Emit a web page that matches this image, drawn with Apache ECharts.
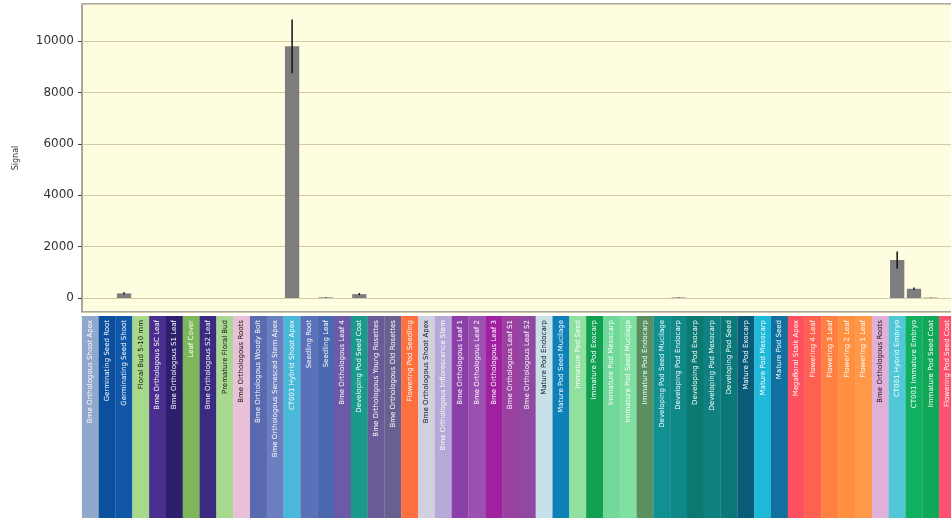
<!DOCTYPE html>
<html>
<head>
<meta charset="utf-8">
<script src="https://cdn.jsdelivr.net/npm/echarts@6/dist/echarts.min.js"></script>
<style>
  html, body { margin: 0; padding: 0; background: #fff; }
  #main { width: 951px; height: 518px; }
</style>
</head>
<body>
<div id="main"></div>
<script>
// tissue names, one per column
var tissues = [
    'Bme Orthologous Shoot Apex', 'Germinating Seed Root', 'Germinating Seed Shoot', 'Floral Bud 5-10 mm',
    'Bme Orthologous SC Leaf', 'Bme Orthologous S1 Leaf', 'Leaf Cover', 'Bme Orthologous S2 Leaf',
    'Premature Floral Bud', 'Bme Orthologous Roots', 'Bme Orthologous Woody Bolt', 'Bme Orthologous Senesced Stem Apex',
    'CT001 Hybrid Shoot Apex', 'Seedling Root', 'Seedling Leaf', 'Bme Orthologous Leaf 4',
    'Developing Pod Seed Coat', 'Bme Orthologous Young Rosettes', 'Bme Orthologous Old Rosettes', 'Flowering Pod Seedling',
    'Bme Orthologous Shoot Apex', 'Bme Orthologous Inflorescence Stem', 'Bme Orthologous Leaf 1', 'Bme Orthologous Leaf 2',
    'Bme Orthologous Leaf 3', 'Bme Orthologous Leaf S1', 'Bme Orthologous Leaf S2', 'Mature Pod Endocarp',
    'Mature Pod Seed Mucilage', 'Immature Pod Seed', 'Immature Pod Exocarp', 'Immature Pod Mesocarp',
    'Immature Pod Seed Mucilage', 'Immature Pod Endocarp', 'Developing Pod Seed Mucilage', 'Developing Pod Endocarp',
    'Developing Pod Exocarp', 'Developing Pod Mesocarp', 'Developing Pod Seed', 'Mature Pod Exocarp',
    'Mature Pod Mesocarp', 'Mature Pod Seed', 'Megafloral Stalk Apex', 'Flowering 4 Leaf',
    'Flowering 3 Leaf', 'Flowering 2 Leaf', 'Flowering 1 Leaf', 'Bme Orthologous Roots',
    'CT001 Hybrid Embryo', 'CT001 Immature Embryo', 'Immature Pod Seed Coat', 'Flowering Pod Seed Coat'
];
// colour of the label box under each column
var tissueColors = [
    '#8fa8cc', '#0b4f9e', '#1157a8', '#a8d88a', '#4a2f8f', '#2e1f6e', '#7cb85a', '#3a2a80',
    '#a8d890', '#e8c0d8', '#5a6ab0', '#6a7ec0', '#4ab8d8', '#5a70b8', '#4a68b0', '#6a5aa8',
    '#1a9a8a', '#6a5a98', '#6a6090', '#ff7040', '#d0d0e0', '#b8a8d8', '#8a40a8', '#9a50b0',
    '#a020a0', '#9a40a0', '#9048a0', '#c8e0e8', '#1080b8', '#90e0a0', '#10a050', '#70d898',
    '#80e0a0', '#5a9060', '#109090', '#108888', '#0a7a70', '#108080', '#0a7878', '#0a5a7a',
    '#20b8d8', '#1070a0', '#ff5060', '#ff6050', '#ff8040', '#ff9040', '#ff9848', '#e0b0d8',
    '#50c8d8', '#10b060', '#10a858', '#ff5070'
];
// light boxes get dark text
var darkText = [3, 8, 9, 20, 27, 47];

var signal = [
    0, 0, 180, 0, 0, 0, 0, 0, 0, 0, 0, 0,
    9800, 0, 25, 0, 150, 0, 0, 0, 0, 0, 0, 0,
    0, 0, 0, 0, 0, 0, 0, 0, 0, 0, 0, 20,
    0, 0, 0, 0, 0, 0, 0, 0, 0, 0, 0, 0,
    1480, 360, 15, 0
];
var signalErr = [
    0, 0, 40, 0, 0, 0, 0, 0, 0, 0, 0, 0,
    1050, 0, 10, 0, 40, 0, 0, 0, 0, 0, 0, 0,
    0, 0, 0, 0, 0, 0, 0, 0, 0, 0, 0, 8,
    0, 0, 0, 0, 0, 0, 0, 0, 0, 0, 0, 0,
    330, 50, 5, 0
];

var richStyles = {};
tissueColors.forEach(function (c, i) {
    richStyles['c' + i] = {
        backgroundColor: c,
        color: darkText.indexOf(i) >= 0 ? '#111' : '#fff',
        width: 210,
        height: 17,
        align: 'right',
        fontSize: 7,
        fontFamily: 'DejaVu Sans',
        padding: [0, 4, 0, 0]
    };
});

var errData = signal.map(function (v, i) {
    return [i, v - signalErr[i], v + signalErr[i]];
}).filter(function (d, i) { return signalErr[i] > 0; });

var chart = echarts.init(document.getElementById('main'));
chart.setOption({
    animation: false,
    grid: {
        left: 82,
        top: 4,
        right: -5,
        bottom: 206,
        show: true,
        backgroundColor: '#fffde0',
        borderColor: '#8a8a8a',
        borderWidth: 1.5,
        containLabel: false,
        outerBoundsMode: 'none'
    },
    xAxis: {
        type: 'category',
        data: tissues,
        axisLine: { show: false },
        axisTick: { show: false },
        splitLine: { show: false },
        axisLabel: {
            interval: 0,
            rotate: 90,
            margin: 4,
            hideOverlap: false,
            formatter: function (val, idx) {
                return '{c' + idx + '|' + val + '}';
            },
            rich: richStyles
        }
    },
    yAxis: {
        type: 'value',
        min: -545,
        max: 11450,
        splitNumber: 6,
        name: 'Signal',
        nameLocation: 'middle',
        nameGap: 62,
        nameTextStyle: { fontSize: 8, color: '#333', fontFamily: 'DejaVu Sans' },
        axisLine: { show: false },
        axisTick: { show: true, length: 4, lineStyle: { color: '#444' } },
        axisLabel: {
            margin: 8,
            fontSize: 12,
            color: '#333',
            fontFamily: 'DejaVu Sans',
            showMinLabel: false,
            showMaxLabel: false,
            formatter: function (v) { return String(v); }
        },
        splitLine: { lineStyle: { color: '#d2caa8', width: 1 } }
    },
    series: [{
        type: 'bar',
        data: signal,
        barWidth: '85%',
        itemStyle: { color: '#7d7d7d' }
    }, {
        type: 'custom',
        data: errData,
        z: 10,
        renderItem: function (params, api) {
            var lo = api.coord([api.value(0), api.value(1)]);
            var hi = api.coord([api.value(0), api.value(2)]);
            return {
                type: 'line',
                shape: { x1: lo[0], y1: lo[1], x2: hi[0], y2: hi[1] },
                style: { stroke: '#111', lineWidth: 1.5 }
            };
        }
    }]
});
</script>
</body>
</html>
